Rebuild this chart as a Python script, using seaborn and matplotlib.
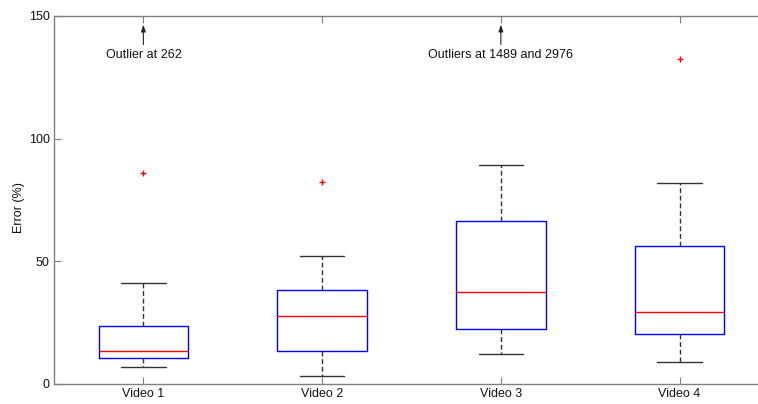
import matplotlib
matplotlib.use("Agg")
import matplotlib.pyplot as plt
import seaborn as sns

# summary values
videos = ["Video 1", "Video 2", "Video 3", "Video 4"]
whisker_low = [6.9, 3.4, 12.1, 9.0]
q1 = [10.5, 13.5, 22.4, 20.5]
median = [13.4, 27.7, 37.4, 29.3]
q3 = [23.6, 38.5, 66.3, 56.4]
whisker_high = [41.2, 52.2, 89.4, 82.1]
outliers = [[86.0, 262.0], [82.3], [1489.0, 2976.0], [132.4]]

notes = ["Outlier at 262", "Outliers at 1489 and 2976"]
note_pos = [1, 3]

sns.set_theme(style="ticks")
plt.rcParams["font.family"] = ["Liberation Sans", "DejaVu Sans"]

stats = []
for i, name in enumerate(videos):
    stats.append({
        "label": name,
        "whislo": whisker_low[i],
        "q1": q1[i],
        "med": median[i],
        "q3": q3[i],
        "whishi": whisker_high[i],
        "fliers": outliers[i],
    })

fig = plt.figure(figsize=(7.58, 4.04), dpi=100)
ax = fig.add_axes([54 / 758, 20 / 404, 715 / 758, 368 / 404])

ax.bxp(
    stats,
    positions=range(1, len(videos) + 1),
    widths=0.5,
    capwidths=0.25,
    boxprops=dict(color="blue", linewidth=1.0),
    medianprops=dict(color="red", linewidth=1.0),
    whiskerprops=dict(color="#333333", linewidth=1.0, linestyle=(0, (3.5, 2))),
    capprops=dict(color="#333333", linewidth=1.0),
    flierprops=dict(marker="+", markeredgecolor="red", markersize=4, markeredgewidth=1.0),
)

ax.set_xlim(0.5, len(videos) + 0.5)
ax.set_ylim(0, 150)
ax.set_yticks([0, 50, 100, 150])
ax.set_ylabel("Error (%)", fontsize=9, color="#111111")
ax.yaxis.set_label_coords(-0.04, 0.48)

for side in ["top", "bottom", "left", "right"]:
    ax.spines[side].set_visible(True)
    ax.spines[side].set_color("#808080")
    ax.spines[side].set_linewidth(1.0)
ax.tick_params(direction="in", length=5, width=0.8, color="#808080",
               labelsize=9, labelcolor="#111111", top=True, right=True, pad=3)

for x, note in zip(note_pos, notes):
    ax.annotate(
        note, xy=(x, 146.5), xytext=(x, 134.0), ha="center", va="center",
        fontsize=9, color="#111111",
        arrowprops=dict(arrowstyle="-|>,head_length=0.45,head_width=0.15",
                        color="#222222", lw=0.8, shrinkA=1, shrinkB=0),
    )

fig.savefig("out.png", dpi=100)
